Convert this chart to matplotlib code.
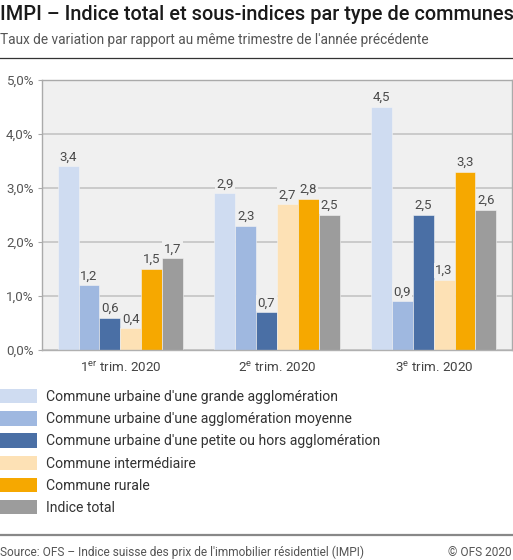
import matplotlib
matplotlib.use("Agg")
import matplotlib.pyplot as plt
from matplotlib.patches import Patch
from matplotlib.lines import Line2D
import numpy as np

plt.rcParams['font.family'] = ['Roboto', 'DejaVu Sans']
plt.rcParams['mathtext.fontset'] = 'custom'
plt.rcParams['mathtext.rm'] = 'Roboto'
plt.rcParams['mathtext.it'] = 'Roboto'

categories = [r"1$^{\mathrm{er}}$ trim. 2020", r"2$^{\mathrm{e}}$ trim. 2020", r"3$^{\mathrm{e}}$ trim. 2020"]
series_names = [
    "Commune urbaine d'une grande agglomération",
    "Commune urbaine d'une agglomération moyenne",
    "Commune urbaine d'une petite ou hors agglomération",
    "Commune intermédiaire",
    "Commune rurale",
    "Indice total",
]
grande = [3.4, 2.9, 4.5]
moyenne = [1.2, 2.3, 0.9]
petite = [0.6, 0.7, 2.5]
intermediaire = [0.4, 2.7, 1.3]
rurale = [1.5, 2.8, 3.3]
total = [1.7, 2.5, 2.6]
series_values = [grande, moyenne, petite, intermediaire, rurale, total]
colors = ["#cfdcf1", "#9fb8e0", "#4a6fa5", "#fde1b5", "#f6a800", "#9c9c9c"]
yticks = [0, 1, 2, 3, 4, 5]
ytick_labels = ["0,0%", "1,0%", "2,0%", "3,0%", "4,0%", "5,0%"]

W, H = 513, 560
fig = plt.figure(figsize=(W / 100, H / 100), dpi=100)

def fx(px):
    return px / W

def fy(py):
    return 1 - py / H

# title and subtitle
fig.text(fx(0), fy(14), "IMPI – Indice total et sous-indices par type de communes",
         fontsize=14.3, fontweight='medium', color='#1a1a1a', va='center', ha='left')
fig.text(fx(0), fy(40), "Taux de variation par rapport au même trimestre de l'année précédente",
         fontsize=9.8, color='#555555', va='center', ha='left')
fig.add_artist(Line2D([0, 1], [fy(58), fy(58)], color='#333333', lw=0.9, transform=fig.transFigure))

ax = fig.add_axes([fx(42), fy(350), fx(512) - fx(42), fy(80) - fy(350)])
ax.set_facecolor('#f0f0f0')
x = np.arange(len(categories))
n = len(series_values)
bw = 0.8 / n
for i, (vals, c) in enumerate(zip(series_values, colors)):
    pos = x - 0.4 + bw * (i + 0.5)
    ax.bar(pos, vals, width=bw, color=c, edgecolor='#f4f4f4', linewidth=0.4, zorder=2)
    for xp, v in zip(pos, vals):
        ax.annotate(f"{v:.1f}".replace('.', ','), (xp, v), xytext=(0, 2), textcoords='offset points',
                    ha='center', va='bottom', fontsize=9.5, color='#4a4a4a', zorder=4,
                    bbox=dict(boxstyle='square,pad=0.1', fc='#f0f0f0', ec='none'))

ax.set_xlim(-0.5, 2.5)
ax.set_ylim(0, 5)
ax.set_yticks(yticks)
ax.set_yticklabels(ytick_labels)
ax.set_xticks(x)
ax.set_xticklabels(categories)
ax.yaxis.grid(True, color='#c4c4c4', lw=1.2, zorder=1)
ax.set_axisbelow(True)
for s in ax.spines.values():
    s.set_color('#aaaaaa')
    s.set_linewidth(1.0)
ax.spines['bottom'].set_color('#b0b0b0')
ax.tick_params(axis='y', length=3, color='#aaaaaa', labelsize=9.6, labelcolor='#555555', pad=3)
ax.tick_params(axis='x', length=0, labelsize=9.6, labelcolor='#444444', pad=8)

handles = [Patch(facecolor=c, edgecolor='none') for c in colors]
fig.legend(handles, series_names, loc='upper left', bbox_to_anchor=(fx(0), fy(389)),
           frameon=False, fontsize=10.1, handlelength=2.65, handleheight=1.2,
           handletextpad=0.65, labelspacing=0.52, borderpad=0, borderaxespad=0,
           labelcolor='#333333')

fig.add_artist(Line2D([0, 1], [fy(535), fy(535)], color='#888888', lw=1.6, transform=fig.transFigure))
fig.text(fx(0), fy(552), "Source: OFS – Indice suisse des prix de l'immobilier résidentiel (IMPI)",
         fontsize=8.55, color='#555555', va='center', ha='left')
fig.text(fx(512), fy(552), "© OFS 2020", fontsize=8.55, color='#555555', va='center', ha='right')

fig.savefig("out.png", dpi=100)
